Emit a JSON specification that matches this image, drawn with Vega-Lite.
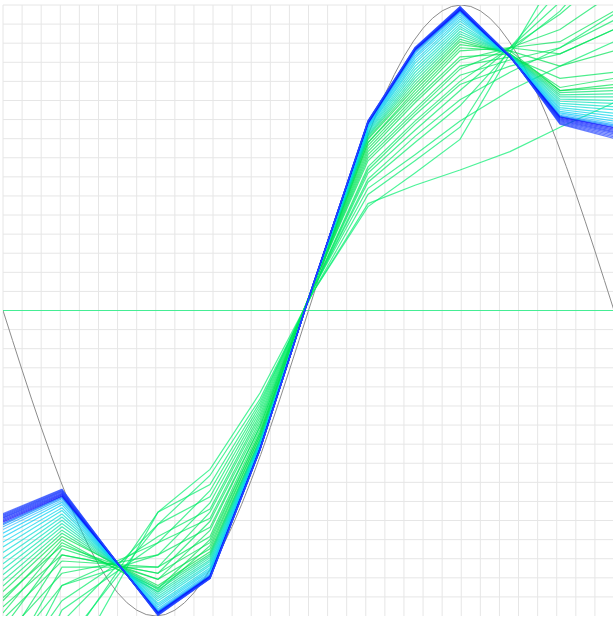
{
"$schema":"https://vega.github.io/schema/vega-lite/v6.json",
"width":611,"height":611,
"autosize":{"type":"none"},
"padding":{"left":3,"top":5,"right":0,"bottom":0},
"config":{"view":{"stroke":null}},
"datasets":{
"gx":[{"v":-3.1416},{"v":-2.9452},{"v":-2.7489},{"v":-2.5525},{"v":-2.3562},{"v":-2.1598},{"v":-1.9635},{"v":-1.7671},{"v":-1.5708},{"v":-1.3744},{"v":-1.1781},{"v":-0.9817},{"v":-0.7854},{"v":-0.589},{"v":-0.3927},{"v":-0.1963},{"v":0},{"v":0.1963},{"v":0.3927},{"v":0.589},{"v":0.7854},{"v":0.9817},{"v":1.1781},{"v":1.3744},{"v":1.5708},{"v":1.7671},{"v":1.9635},{"v":2.1598},{"v":2.3562},{"v":2.5525},{"v":2.7489},{"v":2.9452}],
"gy":[{"v":-0.9375},{"v":-0.875},{"v":-0.8125},{"v":-0.75},{"v":-0.6875},{"v":-0.625},{"v":-0.5625},{"v":-0.5},{"v":-0.4375},{"v":-0.375},{"v":-0.3125},{"v":-0.25},{"v":-0.1875},{"v":-0.125},{"v":-0.0625},{"v":0},{"v":0.0625},{"v":0.125},{"v":0.1875},{"v":0.25},{"v":0.3125},{"v":0.375},{"v":0.4375},{"v":0.5},{"v":0.5625},{"v":0.625},{"v":0.6875},{"v":0.75},{"v":0.8125},{"v":0.875},{"v":0.9375},{"v":1}],
"sine":[
{"x":-3.1416,"y":0},{"x":-3.0434,"y":-0.098},{"x":-2.9452,"y":-0.1951},{"x":-2.8471,"y":-0.2903},{"x":-2.7489,"y":-0.3827},{"x":-2.6507,"y":-0.4714},{"x":-2.5525,"y":-0.5556},{"x":-2.4544,"y":-0.6344},{"x":-2.3562,"y":-0.7071},{"x":-2.258,"y":-0.773},{"x":-2.1598,"y":-0.8315},{"x":-2.0617,"y":-0.8819},{"x":-1.9635,"y":-0.9239},{"x":-1.8653,"y":-0.9569},{"x":-1.7671,"y":-0.9808},{"x":-1.669,"y":-0.9952},{"x":-1.5708,"y":-1},{"x":-1.4726,"y":-0.9952},{"x":-1.3744,"y":-0.9808},{"x":-1.2763,"y":-0.9569},{"x":-1.1781,"y":-0.9239},{"x":-1.0799,"y":-0.8819},{"x":-0.9817,"y":-0.8315},{"x":-0.8836,"y":-0.773},{"x":-0.7854,"y":-0.7071},{"x":-0.6872,"y":-0.6344},{"x":-0.589,"y":-0.5556},{"x":-0.4909,"y":-0.4714},{"x":-0.3927,"y":-0.3827},{"x":-0.2945,"y":-0.2903},{"x":-0.1963,"y":-0.1951},{"x":-0.0982,"y":-0.098},
{"x":0,"y":0},{"x":0.0982,"y":0.098},{"x":0.1963,"y":0.1951},{"x":0.2945,"y":0.2903},{"x":0.3927,"y":0.3827},{"x":0.4909,"y":0.4714},{"x":0.589,"y":0.5556},{"x":0.6872,"y":0.6344},{"x":0.7854,"y":0.7071},{"x":0.8836,"y":0.773},{"x":0.9817,"y":0.8315},{"x":1.0799,"y":0.8819},{"x":1.1781,"y":0.9239},{"x":1.2763,"y":0.9569},{"x":1.3744,"y":0.9808},{"x":1.4726,"y":0.9952},{"x":1.5708,"y":1},{"x":1.669,"y":0.9952},{"x":1.7671,"y":0.9808},{"x":1.8653,"y":0.9569},{"x":1.9635,"y":0.9239},{"x":2.0617,"y":0.8819},{"x":2.1598,"y":0.8315},{"x":2.258,"y":0.773},{"x":2.3562,"y":0.7071},{"x":2.4544,"y":0.6344},{"x":2.5525,"y":0.5556},{"x":2.6507,"y":0.4714},{"x":2.7489,"y":0.3827},{"x":2.8471,"y":0.2903},{"x":2.9452,"y":0.1951},{"x":3.0434,"y":0.098},{"x":3.1416,"y":0}
],
"fits":[
{"iter":0,"x":-3.1416,"y":0},{"iter":0,"x":3.1416,"y":0},
{"iter":1,"x":-3.1416,"y":-1.6},{"iter":1,"x":-2.535,"y":-1.22},{"iter":1,"x":-1.548,"y":-0.66},{"iter":1,"x":-1.013,"y":-0.52},{"iter":1,"x":-0.499,"y":-0.27},{"iter":1,"x":0.046,"y":0.06},{"iter":1,"x":0.612,"y":0.34},{"iter":1,"x":1.095,"y":0.45},{"iter":1,"x":1.558,"y":0.56},{"iter":1,"x":2.072,"y":0.84},{"iter":1,"x":2.586,"y":1.12},{"iter":1,"x":3.1416,"y":1.42},
{"iter":2,"x":-3.1416,"y":-1.52},{"iter":2,"x":-2.535,"y":-1.1},{"iter":2,"x":-1.548,"y":-0.7},{"iter":2,"x":-1.013,"y":-0.54},{"iter":2,"x":-0.499,"y":-0.29},{"iter":2,"x":0.046,"y":0.06},{"iter":2,"x":0.612,"y":0.35},{"iter":2,"x":1.095,"y":0.41},{"iter":2,"x":1.558,"y":0.46},{"iter":2,"x":2.072,"y":0.52},{"iter":2,"x":2.586,"y":0.6},{"iter":2,"x":3.1416,"y":0.68},
{"iter":3,"x":-3.1416,"y":-1.45},{"iter":3,"x":-2.535,"y":-1.12},{"iter":3,"x":-1.548,"y":-0.66},{"iter":3,"x":-1.013,"y":-0.57},{"iter":3,"x":-0.499,"y":-0.3},{"iter":3,"x":0.046,"y":0.06},{"iter":3,"x":0.612,"y":0.38},{"iter":3,"x":1.095,"y":0.49},{"iter":3,"x":1.558,"y":0.6},{"iter":3,"x":2.072,"y":0.86},{"iter":3,"x":2.586,"y":1.05},{"iter":3,"x":3.1416,"y":1.32},
{"iter":4,"x":-3.1416,"y":-1.38},{"iter":4,"x":-2.535,"y":-0.98},{"iter":4,"x":-1.548,"y":-0.76},{"iter":4,"x":-1.013,"y":-0.59},{"iter":4,"x":-0.499,"y":-0.31},{"iter":4,"x":0.046,"y":0.07},{"iter":4,"x":0.612,"y":0.4},{"iter":4,"x":1.095,"y":0.51},{"iter":4,"x":1.558,"y":0.62},{"iter":4,"x":2.072,"y":0.72},{"iter":4,"x":2.586,"y":0.8},{"iter":4,"x":3.1416,"y":0.88},
{"iter":5,"x":-3.1416,"y":-1.32},{"iter":5,"x":-2.535,"y":-1.02},{"iter":5,"x":-1.548,"y":-0.7},{"iter":5,"x":-1.013,"y":-0.61},{"iter":5,"x":-0.499,"y":-0.32},{"iter":5,"x":0.046,"y":0.07},{"iter":5,"x":0.612,"y":0.42},{"iter":5,"x":1.095,"y":0.55},{"iter":5,"x":1.558,"y":0.67},{"iter":5,"x":2.072,"y":0.85},{"iter":5,"x":2.586,"y":0.98},{"iter":5,"x":3.1416,"y":1.18},
{"iter":6,"x":-3.1416,"y":-1.27},{"iter":6,"x":-2.535,"y":-0.9},{"iter":6,"x":-1.548,"y":-0.8},{"iter":6,"x":-1.013,"y":-0.63},{"iter":6,"x":-0.499,"y":-0.33},{"iter":6,"x":0.046,"y":0.07},{"iter":6,"x":0.612,"y":0.43},{"iter":6,"x":1.095,"y":0.57},{"iter":6,"x":1.558,"y":0.69},{"iter":6,"x":2.072,"y":0.78},{"iter":6,"x":2.586,"y":0.86},{"iter":6,"x":3.1416,"y":0.97},
{"iter":7,"x":-3.1416,"y":-1.22},{"iter":7,"x":-2.535,"y":-0.95},{"iter":7,"x":-1.548,"y":-0.74},{"iter":7,"x":-1.013,"y":-0.65},{"iter":7,"x":-0.499,"y":-0.34},{"iter":7,"x":0.046,"y":0.07},{"iter":7,"x":0.612,"y":0.45},{"iter":7,"x":1.095,"y":0.59},{"iter":7,"x":1.558,"y":0.72},{"iter":7,"x":2.072,"y":0.86},{"iter":7,"x":2.586,"y":1.01},{"iter":7,"x":3.1416,"y":1.22},
{"iter":8,"x":-3.1416,"y":-1.18},{"iter":8,"x":-2.535,"y":-0.84},{"iter":8,"x":-1.548,"y":-0.84},{"iter":8,"x":-1.013,"y":-0.66},{"iter":8,"x":-0.499,"y":-0.35},{"iter":8,"x":0.046,"y":0.07},{"iter":8,"x":0.612,"y":0.46},{"iter":8,"x":1.095,"y":0.61},{"iter":8,"x":1.558,"y":0.74},{"iter":8,"x":2.072,"y":0.8},{"iter":8,"x":2.586,"y":0.84},{"iter":8,"x":3.1416,"y":0.92},
{"iter":9,"x":-3.1416,"y":-1.14},{"iter":9,"x":-2.535,"y":-0.9},{"iter":9,"x":-1.548,"y":-0.76},{"iter":9,"x":-1.013,"y":-0.68},{"iter":9,"x":-0.499,"y":-0.36},{"iter":9,"x":0.046,"y":0.07},{"iter":9,"x":0.612,"y":0.47},{"iter":9,"x":1.095,"y":0.62},{"iter":9,"x":1.558,"y":0.75},{"iter":9,"x":2.072,"y":0.86},{"iter":9,"x":2.586,"y":0.97},{"iter":9,"x":3.1416,"y":1.12},
{"iter":10,"x":-3.1416,"y":-1.1},{"iter":10,"x":-2.535,"y":-0.8},{"iter":10,"x":-1.548,"y":-0.86},{"iter":10,"x":-1.013,"y":-0.69},{"iter":10,"x":-0.499,"y":-0.37},{"iter":10,"x":0.046,"y":0.08},{"iter":10,"x":0.612,"y":0.49},{"iter":10,"x":1.095,"y":0.64},{"iter":10,"x":1.558,"y":0.77},{"iter":10,"x":2.072,"y":0.82},{"iter":10,"x":2.586,"y":0.86},{"iter":10,"x":3.1416,"y":0.95},
{"iter":11,"x":-3.1416,"y":-1.07},{"iter":11,"x":-2.535,"y":-0.86},{"iter":11,"x":-1.548,"y":-0.8},{"iter":11,"x":-1.013,"y":-0.71},{"iter":11,"x":-0.499,"y":-0.38},{"iter":11,"x":0.046,"y":0.08},{"iter":11,"x":0.612,"y":0.5},{"iter":11,"x":1.095,"y":0.65},{"iter":11,"x":1.558,"y":0.79},{"iter":11,"x":2.072,"y":0.86},{"iter":11,"x":2.586,"y":0.92},{"iter":11,"x":3.1416,"y":1.04},
{"iter":12,"x":-3.1416,"y":-1.04},{"iter":12,"x":-2.535,"y":-0.78},{"iter":12,"x":-1.548,"y":-0.88},{"iter":12,"x":-1.013,"y":-0.72},{"iter":12,"x":-0.499,"y":-0.38},{"iter":12,"x":0.046,"y":0.08},{"iter":12,"x":0.612,"y":0.51},{"iter":12,"x":1.095,"y":0.66},{"iter":12,"x":1.558,"y":0.8},{"iter":12,"x":2.072,"y":0.83},{"iter":12,"x":2.586,"y":0.76},{"iter":12,"x":3.1416,"y":0.78},
{"iter":13,"x":-3.1416,"y":-1.01},{"iter":13,"x":-2.535,"y":-0.82},{"iter":13,"x":-1.548,"y":-0.84},{"iter":13,"x":-1.013,"y":-0.74},{"iter":13,"x":-0.499,"y":-0.39},{"iter":13,"x":0.046,"y":0.08},{"iter":13,"x":0.612,"y":0.52},{"iter":13,"x":1.095,"y":0.68},{"iter":13,"x":1.558,"y":0.82},{"iter":13,"x":2.072,"y":0.86},{"iter":13,"x":2.586,"y":0.88},{"iter":13,"x":3.1416,"y":0.98},
{"iter":14,"x":-3.1416,"y":-0.99},{"iter":14,"x":-2.535,"y":-0.76},{"iter":14,"x":-1.548,"y":-0.91},{"iter":14,"x":-1.013,"y":-0.75},{"iter":14,"x":-0.499,"y":-0.4},{"iter":14,"x":0.046,"y":0.08},{"iter":14,"x":0.612,"y":0.53},{"iter":14,"x":1.095,"y":0.69},{"iter":14,"x":1.558,"y":0.83},{"iter":14,"x":2.072,"y":0.84},{"iter":14,"x":2.586,"y":0.73},{"iter":14,"x":3.1416,"y":0.76},
{"iter":15,"x":-3.1416,"y":-0.97},{"iter":15,"x":-2.535,"y":-0.8},{"iter":15,"x":-1.548,"y":-0.86},{"iter":15,"x":-1.013,"y":-0.76},{"iter":15,"x":-0.499,"y":-0.4},{"iter":15,"x":0.046,"y":0.08},{"iter":15,"x":0.612,"y":0.54},{"iter":15,"x":1.095,"y":0.7},{"iter":15,"x":1.558,"y":0.85},{"iter":15,"x":2.072,"y":0.86},{"iter":15,"x":2.586,"y":0.84},{"iter":15,"x":3.1416,"y":0.92},
{"iter":16,"x":-3.1416,"y":-0.95},{"iter":16,"x":-2.535,"y":-0.75},{"iter":16,"x":-1.548,"y":-0.92},{"iter":16,"x":-1.013,"y":-0.77},{"iter":16,"x":-0.499,"y":-0.41},{"iter":16,"x":0.046,"y":0.08},{"iter":16,"x":0.612,"y":0.55},{"iter":16,"x":1.095,"y":0.71},{"iter":16,"x":1.558,"y":0.86},{"iter":16,"x":2.072,"y":0.85},{"iter":16,"x":2.586,"y":0.72},{"iter":16,"x":3.1416,"y":0.74},
{"iter":17,"x":-3.1416,"y":-0.94},{"iter":17,"x":-2.535,"y":-0.77},{"iter":17,"x":-1.548,"y":-0.88},{"iter":17,"x":-1.013,"y":-0.78},{"iter":17,"x":-0.499,"y":-0.41},{"iter":17,"x":0.046,"y":0.08},{"iter":17,"x":0.612,"y":0.55},{"iter":17,"x":1.095,"y":0.72},{"iter":17,"x":1.558,"y":0.87},{"iter":17,"x":2.072,"y":0.85},{"iter":17,"x":2.586,"y":0.8},{"iter":17,"x":3.1416,"y":0.85},
{"iter":18,"x":-3.1416,"y":-0.92},{"iter":18,"x":-2.535,"y":-0.74},{"iter":18,"x":-1.548,"y":-0.9},{"iter":18,"x":-1.013,"y":-0.79},{"iter":18,"x":-0.499,"y":-0.42},{"iter":18,"x":0.046,"y":0.08},{"iter":18,"x":0.612,"y":0.56},{"iter":18,"x":1.095,"y":0.73},{"iter":18,"x":1.558,"y":0.88},{"iter":18,"x":2.072,"y":0.84},{"iter":18,"x":2.586,"y":0.72},{"iter":18,"x":3.1416,"y":0.73},
{"iter":19,"x":-3.1416,"y":-0.902},{"iter":19,"x":-2.535,"y":-0.729},{"iter":19,"x":-2.062,"y":-0.818},{"iter":19,"x":-1.548,"y":-0.907},{"iter":19,"x":-1.013,"y":-0.797},{"iter":19,"x":-0.499,"y":-0.423},{"iter":19,"x":0.046,"y":0.08},{"iter":19,"x":0.612,"y":0.564},{"iter":19,"x":1.095,"y":0.74},{"iter":19,"x":1.558,"y":0.888},{"iter":19,"x":2.072,"y":0.839},{"iter":19,"x":2.586,"y":0.713},{"iter":19,"x":3.1416,"y":0.72},
{"iter":20,"x":-3.1416,"y":-0.884},{"iter":20,"x":-2.535,"y":-0.719},{"iter":20,"x":-2.062,"y":-0.815},{"iter":20,"x":-1.548,"y":-0.914},{"iter":20,"x":-1.013,"y":-0.803},{"iter":20,"x":-0.499,"y":-0.425},{"iter":20,"x":0.046,"y":0.08},{"iter":20,"x":0.612,"y":0.569},{"iter":20,"x":1.095,"y":0.75},{"iter":20,"x":1.558,"y":0.897},{"iter":20,"x":2.072,"y":0.838},{"iter":20,"x":2.586,"y":0.706},{"iter":20,"x":3.1416,"y":0.709},
{"iter":21,"x":-3.1416,"y":-0.865},{"iter":21,"x":-2.535,"y":-0.708},{"iter":21,"x":-2.062,"y":-0.813},{"iter":21,"x":-1.548,"y":-0.922},{"iter":21,"x":-1.013,"y":-0.809},{"iter":21,"x":-0.499,"y":-0.428},{"iter":21,"x":0.046,"y":0.081},{"iter":21,"x":0.612,"y":0.573},{"iter":21,"x":1.095,"y":0.76},{"iter":21,"x":1.558,"y":0.905},{"iter":21,"x":2.072,"y":0.838},{"iter":21,"x":2.586,"y":0.699},{"iter":21,"x":3.1416,"y":0.699},
{"iter":22,"x":-3.1416,"y":-0.847},{"iter":22,"x":-2.535,"y":-0.697},{"iter":22,"x":-2.062,"y":-0.81},{"iter":22,"x":-1.548,"y":-0.929},{"iter":22,"x":-1.013,"y":-0.816},{"iter":22,"x":-0.499,"y":-0.431},{"iter":22,"x":0.046,"y":0.081},{"iter":22,"x":0.612,"y":0.577},{"iter":22,"x":1.095,"y":0.769},{"iter":22,"x":1.558,"y":0.913},{"iter":22,"x":2.072,"y":0.837},{"iter":22,"x":2.586,"y":0.692},{"iter":22,"x":3.1416,"y":0.688},
{"iter":23,"x":-3.1416,"y":-0.829},{"iter":23,"x":-2.535,"y":-0.687},{"iter":23,"x":-2.062,"y":-0.808},{"iter":23,"x":-1.548,"y":-0.936},{"iter":23,"x":-1.013,"y":-0.822},{"iter":23,"x":-0.499,"y":-0.433},{"iter":23,"x":0.046,"y":0.081},{"iter":23,"x":0.612,"y":0.582},{"iter":23,"x":1.095,"y":0.779},{"iter":23,"x":1.558,"y":0.922},{"iter":23,"x":2.072,"y":0.836},{"iter":23,"x":2.586,"y":0.685},{"iter":23,"x":3.1416,"y":0.678},
{"iter":24,"x":-3.1416,"y":-0.811},{"iter":24,"x":-2.535,"y":-0.676},{"iter":24,"x":-2.062,"y":-0.806},{"iter":24,"x":-1.548,"y":-0.943},{"iter":24,"x":-1.013,"y":-0.829},{"iter":24,"x":-0.499,"y":-0.436},{"iter":24,"x":0.046,"y":0.081},{"iter":24,"x":0.612,"y":0.586},{"iter":24,"x":1.095,"y":0.789},{"iter":24,"x":1.558,"y":0.93},{"iter":24,"x":2.072,"y":0.835},{"iter":24,"x":2.586,"y":0.678},{"iter":24,"x":3.1416,"y":0.667},
{"iter":25,"x":-3.1416,"y":-0.792},{"iter":25,"x":-2.535,"y":-0.666},{"iter":25,"x":-2.062,"y":-0.803},{"iter":25,"x":-1.548,"y":-0.95},{"iter":25,"x":-1.013,"y":-0.835},{"iter":25,"x":-0.499,"y":-0.438},{"iter":25,"x":0.046,"y":0.082},{"iter":25,"x":0.612,"y":0.59},{"iter":25,"x":1.095,"y":0.799},{"iter":25,"x":1.558,"y":0.938},{"iter":25,"x":2.072,"y":0.834},{"iter":25,"x":2.586,"y":0.671},{"iter":25,"x":3.1416,"y":0.657},
{"iter":26,"x":-3.1416,"y":-0.774},{"iter":26,"x":-2.535,"y":-0.655},{"iter":26,"x":-2.062,"y":-0.801},{"iter":26,"x":-1.548,"y":-0.958},{"iter":26,"x":-1.013,"y":-0.842},{"iter":26,"x":-0.499,"y":-0.441},{"iter":26,"x":0.046,"y":0.082},{"iter":26,"x":0.612,"y":0.595},{"iter":26,"x":1.095,"y":0.809},{"iter":26,"x":1.558,"y":0.947},{"iter":26,"x":2.072,"y":0.834},{"iter":26,"x":2.586,"y":0.664},{"iter":26,"x":3.1416,"y":0.646},
{"iter":27,"x":-3.1416,"y":-0.758},{"iter":27,"x":-2.535,"y":-0.646},{"iter":27,"x":-2.062,"y":-0.799},{"iter":27,"x":-1.548,"y":-0.964},{"iter":27,"x":-1.013,"y":-0.848},{"iter":27,"x":-0.499,"y":-0.443},{"iter":27,"x":0.046,"y":0.082},{"iter":27,"x":0.612,"y":0.598},{"iter":27,"x":1.095,"y":0.817},{"iter":27,"x":1.558,"y":0.954},{"iter":27,"x":2.072,"y":0.833},{"iter":27,"x":2.586,"y":0.658},{"iter":27,"x":3.1416,"y":0.637},
{"iter":28,"x":-3.1416,"y":-0.742},{"iter":28,"x":-2.535,"y":-0.636},{"iter":28,"x":-2.062,"y":-0.797},{"iter":28,"x":-1.548,"y":-0.97},{"iter":28,"x":-1.013,"y":-0.853},{"iter":28,"x":-0.499,"y":-0.446},{"iter":28,"x":0.046,"y":0.082},{"iter":28,"x":0.612,"y":0.602},{"iter":28,"x":1.095,"y":0.826},{"iter":28,"x":1.558,"y":0.961},{"iter":28,"x":2.072,"y":0.832},{"iter":28,"x":2.586,"y":0.652},{"iter":28,"x":3.1416,"y":0.628},
{"iter":29,"x":-3.1416,"y":-0.729},{"iter":29,"x":-2.535,"y":-0.628},{"iter":29,"x":-2.062,"y":-0.795},{"iter":29,"x":-1.548,"y":-0.976},{"iter":29,"x":-1.013,"y":-0.858},{"iter":29,"x":-0.499,"y":-0.448},{"iter":29,"x":0.046,"y":0.083},{"iter":29,"x":0.612,"y":0.605},{"iter":29,"x":1.095,"y":0.833},{"iter":29,"x":1.558,"y":0.967},{"iter":29,"x":2.072,"y":0.832},{"iter":29,"x":2.586,"y":0.647},{"iter":29,"x":3.1416,"y":0.62},
{"iter":30,"x":-3.1416,"y":-0.717},{"iter":30,"x":-2.535,"y":-0.622},{"iter":30,"x":-2.062,"y":-0.793},{"iter":30,"x":-1.548,"y":-0.98},{"iter":30,"x":-1.013,"y":-0.862},{"iter":30,"x":-0.499,"y":-0.449},{"iter":30,"x":0.046,"y":0.083},{"iter":30,"x":0.612,"y":0.608},{"iter":30,"x":1.095,"y":0.84},{"iter":30,"x":1.558,"y":0.973},{"iter":30,"x":2.072,"y":0.831},{"iter":30,"x":2.586,"y":0.643},{"iter":30,"x":3.1416,"y":0.613},
{"iter":31,"x":-3.1416,"y":-0.708},{"iter":31,"x":-2.535,"y":-0.616},{"iter":31,"x":-2.062,"y":-0.792},{"iter":31,"x":-1.548,"y":-0.984},{"iter":31,"x":-1.013,"y":-0.865},{"iter":31,"x":-0.499,"y":-0.451},{"iter":31,"x":0.046,"y":0.083},{"iter":31,"x":0.612,"y":0.61},{"iter":31,"x":1.095,"y":0.844},{"iter":31,"x":1.558,"y":0.977},{"iter":31,"x":2.072,"y":0.831},{"iter":31,"x":2.586,"y":0.639},{"iter":31,"x":3.1416,"y":0.608},
{"iter":32,"x":-3.1416,"y":-0.701},{"iter":32,"x":-2.535,"y":-0.612},{"iter":32,"x":-2.062,"y":-0.791},{"iter":32,"x":-1.548,"y":-0.986},{"iter":32,"x":-1.013,"y":-0.868},{"iter":32,"x":-0.499,"y":-0.452},{"iter":32,"x":0.046,"y":0.083},{"iter":32,"x":0.612,"y":0.612},{"iter":32,"x":1.095,"y":0.848},{"iter":32,"x":1.558,"y":0.98},{"iter":32,"x":2.072,"y":0.83},{"iter":32,"x":2.586,"y":0.636},{"iter":32,"x":3.1416,"y":0.604},
{"iter":33,"x":-3.1416,"y":-0.697},{"iter":33,"x":-2.535,"y":-0.609},{"iter":33,"x":-2.062,"y":-0.791},{"iter":33,"x":-1.548,"y":-0.988},{"iter":33,"x":-1.013,"y":-0.869},{"iter":33,"x":-0.499,"y":-0.452},{"iter":33,"x":0.046,"y":0.083},{"iter":33,"x":0.612,"y":0.613},{"iter":33,"x":1.095,"y":0.851},{"iter":33,"x":1.558,"y":0.982},{"iter":33,"x":2.072,"y":0.829},{"iter":33,"x":2.586,"y":0.634},{"iter":33,"x":3.1416,"y":0.6},
{"iter":34,"x":-3.1416,"y":-0.692},{"iter":34,"x":-2.535,"y":-0.607},{"iter":34,"x":-2.062,"y":-0.79},{"iter":34,"x":-1.548,"y":-0.99},{"iter":34,"x":-1.013,"y":-0.871},{"iter":34,"x":-0.499,"y":-0.453},{"iter":34,"x":0.046,"y":0.083},{"iter":34,"x":0.612,"y":0.614},{"iter":34,"x":1.095,"y":0.853},{"iter":34,"x":1.558,"y":0.984},{"iter":34,"x":2.072,"y":0.83},{"iter":34,"x":2.586,"y":0.633},{"iter":34,"x":3.1416,"y":0.598},
{"iter":35,"x":-3.1416,"y":-0.688},{"iter":35,"x":-2.535,"y":-0.604},{"iter":35,"x":-2.062,"y":-0.789},{"iter":35,"x":-1.548,"y":-0.991},{"iter":35,"x":-1.013,"y":-0.872},{"iter":35,"x":-0.499,"y":-0.454},{"iter":35,"x":0.046,"y":0.083},{"iter":35,"x":0.612,"y":0.615},{"iter":35,"x":1.095,"y":0.854},{"iter":35,"x":1.558,"y":0.985},{"iter":35,"x":2.072,"y":0.831},{"iter":35,"x":2.586,"y":0.63},{"iter":35,"x":3.1416,"y":0.594},
{"iter":36,"x":-3.1416,"y":-0.684},{"iter":36,"x":-2.535,"y":-0.601},{"iter":36,"x":-2.062,"y":-0.788},{"iter":36,"x":-1.548,"y":-0.992},{"iter":36,"x":-1.013,"y":-0.873},{"iter":36,"x":-0.499,"y":-0.454},{"iter":36,"x":0.046,"y":0.083},{"iter":36,"x":0.612,"y":0.616},{"iter":36,"x":1.095,"y":0.855},{"iter":36,"x":1.558,"y":0.987},{"iter":36,"x":2.072,"y":0.832},{"iter":36,"x":2.586,"y":0.627},{"iter":36,"x":3.1416,"y":0.59},
{"iter":37,"x":-3.1416,"y":-0.68},{"iter":37,"x":-2.535,"y":-0.598},{"iter":37,"x":-2.062,"y":-0.788},{"iter":37,"x":-1.548,"y":-0.993},{"iter":37,"x":-1.013,"y":-0.874},{"iter":37,"x":-0.499,"y":-0.455},{"iter":37,"x":0.046,"y":0.083},{"iter":37,"x":0.612,"y":0.617},{"iter":37,"x":1.095,"y":0.856},{"iter":37,"x":1.558,"y":0.988},{"iter":37,"x":2.072,"y":0.832},{"iter":37,"x":2.586,"y":0.624},{"iter":37,"x":3.1416,"y":0.586},
{"iter":38,"x":-3.1416,"y":-0.677},{"iter":38,"x":-2.535,"y":-0.595},{"iter":38,"x":-2.062,"y":-0.787},{"iter":38,"x":-1.548,"y":-0.994},{"iter":38,"x":-1.013,"y":-0.875},{"iter":38,"x":-0.499,"y":-0.455},{"iter":38,"x":0.046,"y":0.083},{"iter":38,"x":0.612,"y":0.618},{"iter":38,"x":1.095,"y":0.857},{"iter":38,"x":1.558,"y":0.99},{"iter":38,"x":2.072,"y":0.832},{"iter":38,"x":2.586,"y":0.621},{"iter":38,"x":3.1416,"y":0.582},
{"iter":39,"x":-3.1416,"y":-0.674},{"iter":39,"x":-2.535,"y":-0.592},{"iter":39,"x":-2.062,"y":-0.787},{"iter":39,"x":-1.548,"y":-0.995},{"iter":39,"x":-1.013,"y":-0.876},{"iter":39,"x":-0.499,"y":-0.456},{"iter":39,"x":0.046,"y":0.083},{"iter":39,"x":0.612,"y":0.619},{"iter":39,"x":1.095,"y":0.858},{"iter":39,"x":1.558,"y":0.991},{"iter":39,"x":2.072,"y":0.833},{"iter":39,"x":2.586,"y":0.618},{"iter":39,"x":3.1416,"y":0.578},
{"iter":40,"x":-3.1416,"y":-0.671},{"iter":40,"x":-2.535,"y":-0.59},{"iter":40,"x":-2.062,"y":-0.786},{"iter":40,"x":-1.548,"y":-0.996},{"iter":40,"x":-1.013,"y":-0.877},{"iter":40,"x":-0.499,"y":-0.456},{"iter":40,"x":0.046,"y":0.083},{"iter":40,"x":0.612,"y":0.62},{"iter":40,"x":1.095,"y":0.859},{"iter":40,"x":1.558,"y":0.992},{"iter":40,"x":2.072,"y":0.833},{"iter":40,"x":2.586,"y":0.615},{"iter":40,"x":3.1416,"y":0.573},
{"iter":41,"x":-3.1416,"y":-0.668},{"iter":41,"x":-2.535,"y":-0.587},{"iter":41,"x":-2.062,"y":-0.786},{"iter":41,"x":-1.548,"y":-0.997},{"iter":41,"x":-1.013,"y":-0.877},{"iter":41,"x":-0.499,"y":-0.457},{"iter":41,"x":0.046,"y":0.083},{"iter":41,"x":0.612,"y":0.62},{"iter":41,"x":1.095,"y":0.86},{"iter":41,"x":1.558,"y":0.994},{"iter":41,"x":2.072,"y":0.834},{"iter":41,"x":2.586,"y":0.612},{"iter":41,"x":3.1416,"y":0.568},
{"iter":42,"x":-3.1416,"y":-0.665},{"iter":42,"x":-2.535,"y":-0.585},{"iter":42,"x":-2.062,"y":-0.785},{"iter":42,"x":-1.548,"y":-0.998},{"iter":42,"x":-1.013,"y":-0.878},{"iter":42,"x":-0.499,"y":-0.457},{"iter":42,"x":0.046,"y":0.083},{"iter":42,"x":0.612,"y":0.621},{"iter":42,"x":1.095,"y":0.861},{"iter":42,"x":1.558,"y":0.995},{"iter":42,"x":2.072,"y":0.834},{"iter":42,"x":2.586,"y":0.61},{"iter":42,"x":3.1416,"y":0.563}
]
},
"resolve":{"scale":{"color":"independent"}},
"layer":[
{"data":{"name":"gx"},"mark":{"type":"rule","color":"#e6e6e6","strokeWidth":1},
"encoding":{"x":{"field":"v","type":"quantitative","scale":{"domain":[-3.1416,3.1416],"nice":false,"zero":false},"axis":null}}},
{"data":{"name":"gy"},"mark":{"type":"rule","color":"#e6e6e6","strokeWidth":1},
"encoding":{"y":{"field":"v","type":"quantitative","scale":{"domain":[-1,1],"nice":false,"zero":false},"axis":null}}},
{"data":{"name":"sine"},
"mark":{"type":"line","color":"#8c8c8c","strokeWidth":1,"clip":true},
"encoding":{
"x":{"field":"x","type":"quantitative"},
"y":{"field":"y","type":"quantitative"}
}},
{"data":{"name":"fits"},
"mark":{"type":"line","strokeWidth":1.2,"strokeOpacity":0.7,"clip":true},
"encoding":{
"x":{"field":"x","type":"quantitative"},
"y":{"field":"y","type":"quantitative"},
"detail":{"field":"iter","type":"nominal"},
"color":{"field":"iter","type":"quantitative","legend":null,
"scale":{"domain":[0,18,24,30,34,42],"range":["#00f070","#00e050","#00e0c8","#30c0ff","#0000ff","#2848ff"]}}
}}
]
}
